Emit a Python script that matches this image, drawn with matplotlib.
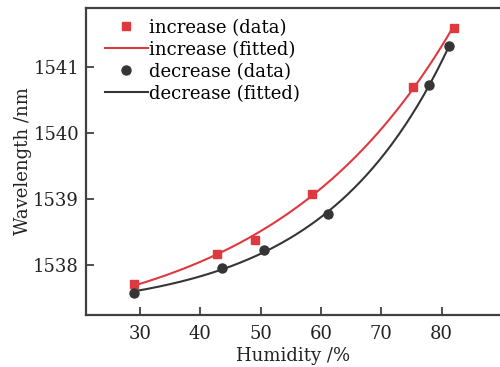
import numpy as np
import matplotlib
matplotlib.use('Agg')
import matplotlib.pyplot as plt

# humidity (%) and resonance wavelength (nm)
inc_hum = [29.0, 42.8, 49.1, 58.5, 75.2, 82.0]
inc_wl = [1537.72, 1538.18, 1538.39, 1539.09, 1540.70, 1541.60]
dec_hum = [29.0, 43.6, 50.6, 61.2, 77.9, 81.3]
dec_wl = [1537.59, 1537.96, 1538.23, 1538.78, 1540.74, 1541.32]

red = '#e0383f'
dark = '#353535'
axis_col = '#404040'

plt.rcParams['font.family'] = ['DejaVu Serif']
plt.rcParams['font.size'] = 13

fig = plt.figure(figsize=(5.0, 3.67), dpi=100)
ax = fig.add_axes([86 / 500, 52 / 367, 414 / 500, 307 / 367])


def fit_curve(x, y):
    # exponential growth fit y = y0 + A*exp(x/t), t found by scanning
    x = np.asarray(x)
    y = np.asarray(y)
    best = None
    for t in np.linspace(5, 80, 751):
        M = np.column_stack([np.ones_like(x), np.exp(x / t)])
        c, *_ = np.linalg.lstsq(M, y, rcond=None)
        err = np.sum((M @ c - y) ** 2)
        if best is None or err < best[0]:
            best = (err, t, c)
    _, t, c = best
    xs = np.linspace(x.min(), x.max(), 200)
    return xs, c[0] + c[1] * np.exp(xs / t)


ax.plot(inc_hum, inc_wl, 's', color=red, ms=6, label='increase (data)', zorder=3)
xs, ys = fit_curve(inc_hum, inc_wl)
ax.plot(xs, ys, '-', color=red, lw=1.5, label='increase (fitted)')
ax.plot(dec_hum, dec_wl, 'o', color=dark, ms=6.5, label='decrease (data)', zorder=3)
xs, ys = fit_curve(dec_hum, dec_wl)
ax.plot(xs, ys, '-', color=dark, lw=1.5, label='decrease (fitted)')

ax.set_xlim(21.05, 89.7)
ax.set_ylim(1537.25, 1541.9)
ax.set_xticks([30, 40, 50, 60, 70, 80])
ax.set_yticks([1538, 1539, 1540, 1541])

for s in ['left', 'top', 'bottom']:
    ax.spines[s].set_color(axis_col)
    ax.spines[s].set_linewidth(1.6)
ax.spines['right'].set_visible(False)
ax.tick_params(direction='in', length=5.5, width=1.3, color=axis_col, labelcolor='#222222')
ax.tick_params(axis='x', pad=7)
ax.tick_params(axis='y', pad=5)

ax.set_xlabel('Humidity /%', color='#222222', labelpad=3)
ax.set_ylabel('Wavelength /nm', color='#222222', labelpad=1)

ax.legend(loc='upper left', bbox_to_anchor=(0.045, 0.965), frameon=False,
          handlelength=2.4, handletextpad=0.05, labelspacing=0.22,
          borderaxespad=0, borderpad=0)

fig.savefig('out.png', dpi=100)
